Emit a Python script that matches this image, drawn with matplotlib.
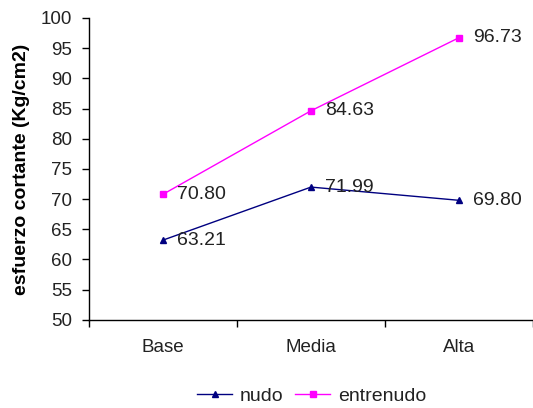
import matplotlib
matplotlib.use("Agg")
import matplotlib.pyplot as plt
from matplotlib.ticker import FixedLocator

plt.rcParams['font.family'] = ['Liberation Sans', 'DejaVu Sans']

categories = ["Base", "Media", "Alta"]
nudo = [63.21, 71.99, 69.80]
entrenudo = [70.80, 84.63, 96.73]
y_ticks = [50, 55, 60, 65, 70, 75, 80, 85, 90, 95, 100]

fig = plt.figure(figsize=(5.33, 4.08), dpi=100)
ax = fig.add_axes([0.167, 0.216, 0.833, 0.740])

x = list(range(len(categories)))
ax.plot(x, nudo, color="#000080", lw=1.0, marker="^", ms=5, label="nudo")
ax.plot(x, entrenudo, color="#FF00FF", lw=1.0, marker="s", ms=4, label="entrenudo")

for xi, v in zip(x, nudo):
    ax.annotate(f"{v:.2f}", (xi, v), xytext=(10, 0), textcoords="offset points",
                va="center", ha="left", fontsize=14, color="#222222")
for xi, v in zip(x, entrenudo):
    ax.annotate(f"{v:.2f}", (xi, v), xytext=(10, 0), textcoords="offset points",
                va="center", ha="left", fontsize=14, color="#222222")

ax.set_xlim(-0.5, 2.5)
ax.set_ylim(50, 100)
ax.set_yticks(y_ticks)
ax.set_xticks(x)
ax.set_xticklabels(categories)
ax.xaxis.set_minor_locator(FixedLocator([-0.5, 0.5, 1.5, 2.5]))
ax.tick_params(axis="x", which="major", length=0, pad=14, labelsize=13.5, labelcolor="#222222")
ax.tick_params(axis="x", which="minor", length=5, width=1, direction="out")
ax.tick_params(axis="y", length=5, width=1, direction="out", labelsize=13.5, pad=7,
               labelcolor="#222222")

for s in ["top", "right"]:
    ax.spines[s].set_visible(False)
for s in ["left", "bottom"]:
    ax.spines[s].set_linewidth(1.0)
    ax.spines[s].set_color("black")

ax.set_ylabel("esfuerzo cortante (Kg/cm2)", fontsize=14, fontweight="bold", labelpad=8)

fig.legend(loc="center", bbox_to_anchor=(0.585, 0.03), ncol=2, frameon=False,
           fontsize=14, handlelength=1.8, handletextpad=0.4, columnspacing=0.6,
           labelcolor="#222222")

fig.savefig("out.png", dpi=100)
